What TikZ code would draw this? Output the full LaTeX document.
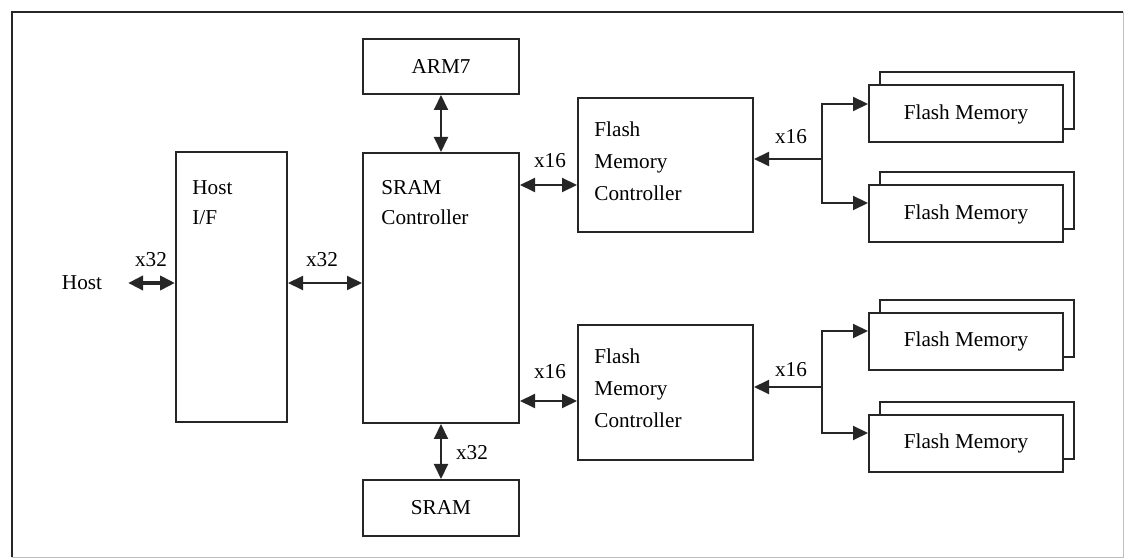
\documentclass[tikz,border=0pt]{standalone}
\usepackage{fontspec}
\setmainfont{Liberation Serif}
\usetikzlibrary{arrows.meta,positioning,shadows}

\begin{document}
\begin{tikzpicture}[x=0.5pt,y=-0.5pt,
  every node/.style={font=\fontsize{10.6}{15}\selectfont},
  blk/.style={draw=black!85,line width=1pt,fill=white,inner sep=0pt},
  txt/.style={inner sep=0pt,align=left},
  flash/.style={blk,minimum width=97pt,minimum height=28.5pt,
    copy shadow={shadow xshift=5.5pt,shadow yshift=6.5pt,fill=white,draw=black!85,line width=1pt}},
  bus/.style={line width=1pt,draw=black!85,{Triangle[length=7.5pt,width=7pt]}-{Triangle[length=7.5pt,width=7pt]}},
  hbus/.style={bus,line width=2pt},
  arr/.style={line width=1pt,draw=black!85,-{Triangle[length=7.5pt,width=7pt]}}]
  \useasboundingbox (0,0) rectangle (1124,560);
  % frame
  \draw[black!85,line width=1pt] (12,557) -- (12,12) -- (1123,12);
  \draw[black!25] (1123,12) -- (1123,557) -- (12,557);

  % blocks
  \node (host) at (82,283) {Host};
  \node[blk,minimum width=55.5pt,minimum height=135pt] (hostif) at (231.5,287) {};
  \node[txt,below right=14.5pt and 8.5pt of hostif.north west] (hostif-t) {Host\\I/F};
  \node[blk,minimum width=78pt,minimum height=135pt] (sramc) at (441,288) {};
  \node[txt,below right=14pt and 9.5pt of sramc.north west] (sramc-t) {SRAM\\Controller};
  \node[blk,minimum width=78pt,minimum height=27.5pt] (arm) at (441,66.5) {ARM7};
  \node[blk,minimum width=78pt,minimum height=28pt] (sram) at (441,508) {SRAM};
  \node[blk,minimum width=87.5pt,minimum height=67pt] (fmc1) at (665.5,165) {};
  \node[txt,font=\fontsize{10.6}{16}\selectfont,below right=12.3pt and 8.5pt of fmc1.north west] (fmc1-t) {Flash\\Memory\\Controller};
  \node[blk,minimum width=87.5pt,minimum height=67.5pt] (fmc2) at (665.5,392.5) {};
  \node[txt,font=\fontsize{10.6}{16}\selectfont,below right=12.3pt and 8.5pt of fmc2.north west] (fmc2-t) {Flash\\Memory\\Controller};
  \foreach \n/\y in {1/114,2/214,3/341.5,4/443.5}
    \node[flash] (fm\n) at (966,\y) {Flash Memory};

  % buses
  \draw[hbus] ([xshift=9.5pt]host.east) -- (hostif.west |- host.east);
  \draw[bus] (hostif.east |- host.east) -- (sramc.west |- host.east);
  \draw[bus] (arm.south) -- (sramc.north);
  \draw[bus] (sramc.south) -- (sram.north);
  \coordinate (p1) at ([yshift=-10pt]fmc1.west);
  \coordinate (p2) at ([yshift=-4.25pt]fmc2.west);
  \draw[bus] (sramc.east |- p1) -- (p1);
  \draw[bus] (sramc.east |- p2) -- (p2);
  \coordinate (j1) at (822,159);
  \coordinate (j2) at (822,387);
  \draw[arr] (j1) -- (fmc1.east |- j1);
  \draw[arr] (j1) |- ([yshift=5pt]fm1.west);
  \draw[arr] (j1) |- ([yshift=5.5pt]fm2.west);
  \draw[arr] (j2) -- (fmc2.east |- j2);
  \draw[arr] (j2) |- ([yshift=5.25pt]fm3.west);
  \draw[arr] (j2) |- ([yshift=5.25pt]fm4.west);

  % widths
  \node (w1) at (151,260) {x32};
  \node (w2) at (322,260) {x32};
  \node (w3) at (472,453) {x32};
  \node (w4) at (550,161) {x16};
  \node (w5) at (550,372) {x16};
  \node (w6) at (791,137) {x16};
  \node (w7) at (791,370) {x16};
\end{tikzpicture}
\end{document}
